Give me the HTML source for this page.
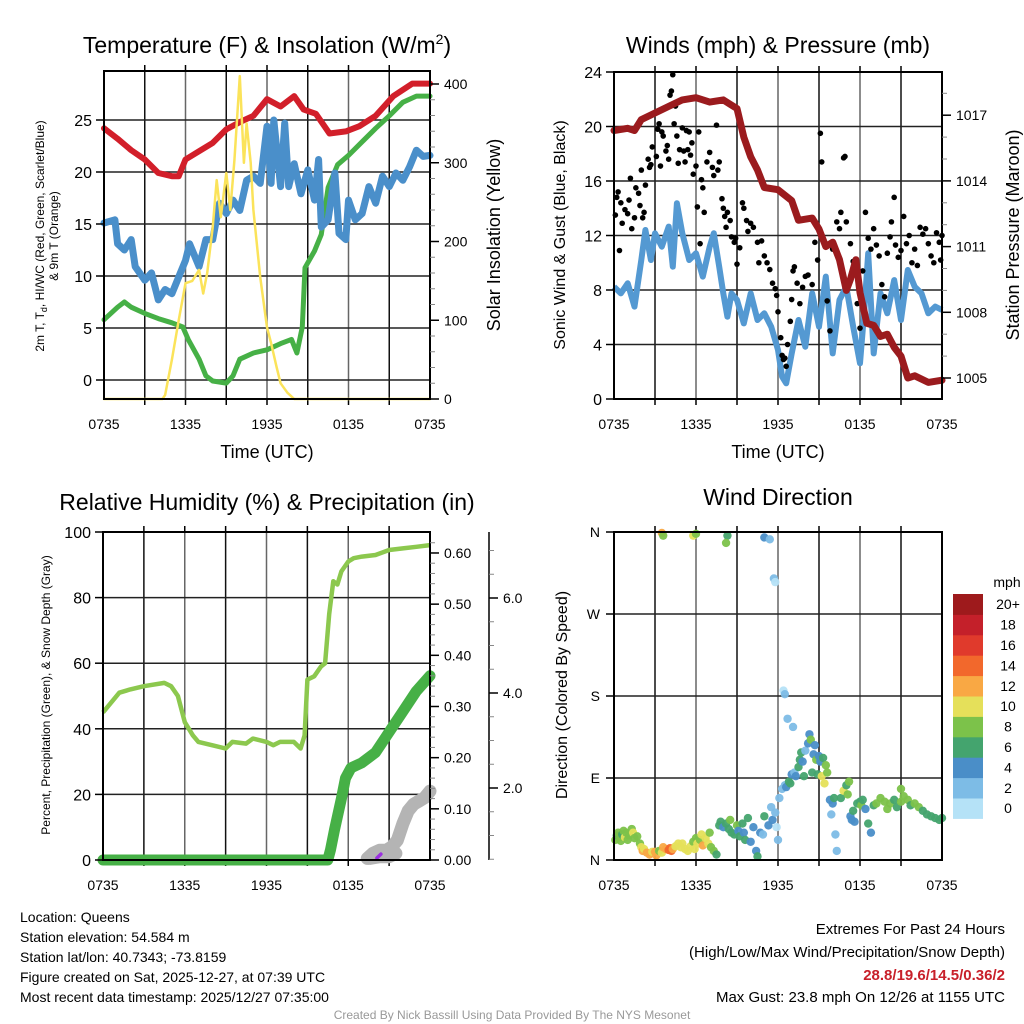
<!DOCTYPE html>
<html><head><meta charset="utf-8">
<style>
html,body{margin:0;padding:0;background:#fff;}
svg{display:block;font-family:"Liberation Sans",sans-serif;}
</style></head>
<body>
<svg id="chart" width="1024" height="1024" viewBox="0 0 1024 1024" xmlns="http://www.w3.org/2000/svg">
<rect width="1024" height="1024" fill="#fff"/>
<text x="267" y="53" font-size="23" text-anchor="middle">Temperature (F) &amp; Insolation (W/m<tspan font-size="14" dy="-9">2</tspan><tspan dy="9">)</tspan></text>
<text x="778" y="53" font-size="23" text-anchor="middle">Winds (mph) &amp; Pressure (mb)</text>
<text x="267" y="510" font-size="23" text-anchor="middle">Relative Humidity (%) &amp; Precipitation (in)</text>
<text x="778" y="505" font-size="23" text-anchor="middle">Wind Direction</text>

<text x="267" y="458" font-size="18" text-anchor="middle">Time (UTC)</text>
<text x="778" y="458" font-size="18" text-anchor="middle">Time (UTC)</text>

<text transform="translate(44,236) rotate(-90)" font-size="12" text-anchor="middle">2m T, T<tspan font-size="9" dy="3">d</tspan><tspan dy="-3">, HI/WC (Red, Green, Scarlet/Blue)</tspan></text>
<text transform="translate(58,236) rotate(-90)" font-size="12" text-anchor="middle">&amp; 9m T (Orange)</text>
<text transform="translate(500,235) rotate(-90)" font-size="18" text-anchor="middle">Solar Insolation (Yellow)</text>
<text transform="translate(565,235) rotate(-90)" font-size="16" text-anchor="middle">Sonic Wind &amp; Gust (Blue, Black)</text>
<text transform="translate(1019,235) rotate(-90)" font-size="18" text-anchor="middle">Station Pressure (Maroon)</text>
<text transform="translate(50,695) rotate(-90)" font-size="12" text-anchor="middle">Percent, Precipitation (Green), &amp; Snow Depth (Gray)</text>
<text transform="translate(567,695) rotate(-90)" font-size="16" text-anchor="middle">Direction (Colored By Speed)</text>

<g font-size="14">
<text x="20" y="922">Location: Queens</text>
<text x="20" y="942">Station elevation: 54.584 m</text>
<text x="20" y="962">Station lat/lon: 40.7343; -73.8159</text>
<text x="20" y="982">Figure created on Sat, 2025-12-27, at 07:39 UTC</text>
<text x="20" y="1002">Most recent data timestamp: 2025/12/27 07:35:00</text>
</g>
<g font-size="15" text-anchor="end">
<text x="1005" y="934">Extremes For Past 24 Hours</text>
<text x="1005" y="957">(High/Low/Max Wind/Precipitation/Snow Depth)</text>
<text x="1005" y="980" fill="#c8202a" font-weight="bold">28.8/19.6/14.5/0.36/2</text>
<text x="1005" y="1002">Max Gust: 23.8 mph On 12/26 at 1155 UTC</text>
</g>
<text x="512" y="1019" font-size="12" fill="#999" text-anchor="middle">Created By Nick Bassill Using Data Provided By The NYS Mesonet</text>
<g id="plots"></g>
</svg>
<script>
// ---------- DATA ----------
const xTickLabels = ["0735","1335","1935","0135","0735"];
const tempTicks = [0,5,10,15,20,25];
const solarTicks = [0,100,200,300,400];
const windTicks = [0,4,8,12,16,20,24];
const presTicks = [1005,1008,1011,1014,1017];
const pctTicks = [0,20,40,60,80,100];
const precipTicks = ["0.00","0.10","0.20","0.30","0.40","0.50","0.60"];
const snowTicks = ["2.0","4.0","6.0"];
const dirLabels = ["N","E","S","W","N"];
const speedLabels = ["0","2","4","6","8","10","12","14","16","18","20+"];
const speedColors = ["#b5e2f7","#7dbce6","#4a8ec8","#44a46e","#7cc24a","#e5e05a","#f9a844","#f2682c","#e03a2c","#c4202a","#9e1a1c"];

const tempRed = [[0,24.2],[1,23.2],[2,22.1],[3,21.2],[4,19.9],[5,19.6],[5.5,19.6],[6,21.2],[7,22],[8,22.8],[9,24.1],[10,24.8],[11,25.4],[12,27],[13,26.3],[14,27.3],[14.7,26],[15.6,25.6],[16.6,23.7],[17.8,23.9],[18.8,24.4],[20,25.4],[21.3,27.3],[22.7,28.5],[24,28.5]];
const tempGreen = [[0,5.8],[1,7],[1.5,7.5],[2,7],[3,6.4],[4,5.9],[5,5.5],[5.8,5.1],[6.2,3.9],[7,2],[7.5,0.4],[8,-0.1],[9,-0.3],[9.5,0.4],[10,2],[11,2.6],[12,2.9],[13,3.5],[13.8,3.9],[14.2,2.6],[14.6,5.1],[14.8,10.8],[15.5,12.4],[16,14],[16.5,18.5],[17.2,20.7],[18,21.6],[19,22.9],[20,24.2],[21,25.4],[22,26.7],[23,27.3],[24,27.3]];
const tempBlue = [[0,15.1],[0.8,15.4],[1,13.1],[1.5,12.5],[2,13.5],[2.3,10.9],[3,9.6],[3.5,10.3],[4,7.7],[4.5,8.7],[5,8.3],[5.5,9.9],[6,11.5],[6.3,13.1],[7,10.9],[7.5,13.5],[8,13.5],[8.5,17],[9,16],[9.5,17.3],[10,16.3],[10.5,19.2],[11,19.6],[11.5,18.9],[12,24.4],[12.3,18.9],[12.5,25],[13,18.6],[13.3,24.7],[13.6,18.6],[14,20.8],[14.5,17.9],[15,20.2],[15.5,17.3],[15.8,21.2],[16,14.7],[16.5,15.4],[17,19.9],[17.3,14.1],[17.8,13.5],[18,17.3],[18.5,15.4],[19,16],[19.5,18.6],[20,17],[20.5,19.6],[21,18.6],[21.5,19.9],[22,19.2],[22.5,20.5],[23,22.1],[23.5,21.5],[24,21.6]];
const solar = [[0,0],[4.3,0],[4.5,5],[5,50],[5.5,100],[6,147],[6.5,150],[7,164],[7.3,134],[7.6,160],[8,218],[8.3,278],[8.6,231],[9,287],[9.3,240],[9.6,303],[10,410],[10.3,300],[10.5,350],[10.8,300],[11,240],[11.5,155],[12,91],[12.3,71],[12.7,41],[13,20],[13.5,8],[14,0],[24,0]];

const windBlue = [[0,8.24],[0.5,7.75],[1,8.49],[1.5,6.78],[2,10.2],[2.3,12.4],[2.7,10.2],[3,12.16],[3.5,11.18],[4,12.65],[4.3,9.71],[4.6,14.36],[5,12.16],[5.5,10.2],[6,10.69],[6.5,8.98],[7,11.18],[7.3,12.16],[7.7,9.71],[8,7.75],[8.3,6.04],[8.6,7.75],[9,7.27],[9.5,5.55],[10,7.75],[10.5,5.8],[11,6.29],[11.5,5.31],[12,3.6],[12.3,1.64],[12.6,1.15],[13,3.35],[13.5,5.8],[14,3.84],[14.5,7.75],[15,5.31],[15.5,8.98],[16,3.35],[16.5,7.27],[17,8.24],[17.5,5.31],[18,2.62],[18.3,6.29],[18.6,10.69],[19,3.35],[19.5,7.75],[20,6.29],[20.5,8.73],[21,5.8],[21.5,9.47],[22,8.24],[22.5,7.75],[23,6.29],[23.5,6.78],[24,6.53]];
const gusts = [[0.1,13.5],[0.2,14.8],[0.3,15.2],[0.4,10.9],[0.5,14.4],[0.6,12.9],[0.8,13.9],[1,13.6],[1.1,14.6],[1.2,16.2],[1.3,12.5],[1.5,13.3],[1.6,15.5],[1.8,15.1],[1.9,14.2],[2,16.8],[2.1,13.3],[2.2,13.7],[2.3,15.7],[2.5,17.6],[2.6,17],[2.7,17.2],[2.8,18.5],[3,21],[3.1,17.8],[3.2,19.8],[3.3,20.2],[3.4,17.1],[3.5,19.6],[3.6,19.3],[3.8,18.2],[3.9,18.6],[4,17.6],[4.1,22.3],[4.2,22.6],[4.3,23.8],[4.4,20.2],[4.5,21.5],[4.6,19.3],[4.7,17.3],[4.8,18.3],[5,19.9],[5.1,18.2],[5.2,17.4],[5.3,19.7],[5.4,18.3],[5.5,19.6],[5.6,17.9],[5.7,18.8],[5.8,16.5],[6,17.1],[6.1,14.1],[6.2,19.6],[6.3,11.4],[6.4,16.1],[6.5,15.5],[6.6,13.7],[6.8,17.4],[7,18.1],[7.2,17],[7.3,16.4],[7.5,20.1],[7.6,16.8],[7.7,17.4],[7.9,14.7],[8,14],[8.1,13.4],[8.2,12.6],[8.3,13.7],[8.5,13.1],[8.6,11.9],[8.8,11.5],[8.9,11.8],[9,9.9],[9.2,11.1],[9.4,14.4],[9.5,14],[9.7,13.1],[9.8,12.3],[10,12.9],[10.2,12.6],[10.5,11.5],[10.6,10],[10.8,11.6],[11,10.5],[11.2,10],[11.4,9.5],[11.6,8.5],[11.8,8.1],[11.9,7.6],[12,6.4],[12.2,4.5],[12.3,3.2],[12.4,2.9],[12.5,3],[12.6,2.4],[12.7,4],[12.9,5.7],[13,7.3],[13.1,9.4],[13.2,9.7],[13.4,8.5],[13.6,7],[13.8,8.2],[14,9],[14.2,9.1],[14.5,8.4],[14.7,11.5],[14.9,10.2],[15.1,19.5],[15.2,17.4],[15.6,7.2],[15.8,5],[16,11],[16.3,13],[16.5,12.5],[16.6,13.7],[16.8,17.7],[16.9,17.8],[17,13],[17.3,11.4],[17.5,10.1],[17.8,7],[18,5.2],[18.2,9.4],[18.4,13.7],[18.6,11.8],[18.8,11],[19,12.5],[19.2,11.3],[19.4,10.5],[19.6,8.4],[19.8,7.5],[20,10.7],[20.2,11.9],[20.3,13],[20.5,14.8],[20.6,11.3],[20.8,10.4],[21,10.9],[21.2,13.4],[21.4,11.4],[21.6,12],[21.8,10],[22,11],[22.2,9.8],[22.4,12.6],[22.6,12.1],[22.8,12.5],[23,11.4],[23.2,10.5],[23.4,10],[23.6,12.2],[23.8,11.5],[23.9,10.2],[24,12]];
const pressure = [[0,1016.3],[1,1016.4],[1.5,1016.3],[2,1016.8],[3,1017.1],[4,1017.4],[5,1017.7],[6,1017.8],[7,1017.6],[8,1017.7],[8.5,1017.5],[9,1017.3],[9.5,1016],[10,1015.1],[10.5,1014.5],[11,1013.7],[12,1013.6],[13,1013.1],[13.5,1012.2],[14.5,1012.3],[15,1011.8],[15.5,1011],[16,1011.2],[16.5,1010.4],[17,1009],[17.3,1009.5],[17.7,1010.4],[18,1008.9],[18.5,1007.5],[19,1007.4],[19.5,1006.9],[20,1007],[20.5,1006.4],[21,1006],[21.5,1005],[22,1005.1],[23,1004.8],[24,1004.9]];

const rh = [[0,45],[1.2,51],[2,52],[3,53],[4.5,54],[5,53],[5.5,50],[6,42],[6.6,38],[7,36],[8,35],[9,34],[9.5,36],[10.5,35.5],[11,37],[12,36],[12.5,35],[13,36],[14,36],[14.5,34],[14.8,38],[15,55],[15.5,56],[16,59],[16.3,60],[16.6,75],[16.9,85],[17.2,84],[17.5,88],[18,91],[18.4,92],[19,92.5],[20,93],[21,94.5],[22,95],[23,95.5],[24,96]];
const precip = [[0,0],[16.5,0],[16.7,0.02],[17,0.06],[17.5,0.12],[17.8,0.16],[18.2,0.18],[19,0.19],[20,0.21],[21,0.25],[22,0.29],[23,0.33],[24,0.36]];
const snow = [[19.4,0.5],[19.8,2],[20.3,3],[20.8,3],[21.2,4],[21.6,6],[22,11],[22.4,15],[22.8,17],[23.2,18],[23.6,19],[24,21]];
const snowLow = [[19.6,0.5],[20.3,1],[21,1],[21.5,2]];
const snowTrace = [[20.1,0.6],[20.4,1.8]];

const windDir = [[0.1,22,8],[0.2,27,6],[0.3,30,8],[0.4,25,9],[0.5,21,8],[0.6,28,6],[0.7,32,8],[0.8,25,10],[0.9,30,8],[1,22,9],[1.1,27,8],[1.3,34,8],[1.4,30,10],[1.5,24,8],[1.7,26,8],[1.9,18,9],[2,14,10],[2.1,10,12],[2.2,12,11],[2.4,8,12],[2.6,6,12],[2.8,9,10],[3,9,12],[3.1,5,12],[3.3,10,8],[3.5,8,10],[3.6,14,13],[3.8,12,12],[4,11,15],[4.1,13,14],[4.2,10,14],[4.3,12,13],[4.5,15,10],[4.7,18,10],[4.9,14,11],[5,18,10],[5.2,12,10],[5.4,10,11],[5.6,15,10],[5.8,20,9],[5.9,12,10],[6,24,8],[6.1,18,10],[6.3,22,9],[6.4,28,11],[6.5,16,12],[6.7,24,10],[6.9,18,10],[7,30,8],[7.1,14,8],[7.3,10,8],[7.5,6,6],[7.7,38,6],[7.8,42,6],[8,36,5],[8.2,40,6],[8.4,34,6],[8.5,44,8],[8.6,30,6],[8.8,28,6],[9,38,8],[9.1,32,4],[9.2,26,6],[9.4,40,6],[9.5,30,4],[9.6,22,6],[9.8,46,6],[10,20,4],[10.2,36,4],[10.4,10,4],[10.5,4,6],[10.7,30,4],[10.9,28,3],[11,48,6],[11.3,38,4],[11.5,58,2],[11.6,44,4],[11.8,52,2],[11.9,36,1],[12,22,2],[12.1,68,2],[12.3,78,2],[12.5,82,2],[12.6,80,4],[12.8,86,6],[12.9,84,6],[13,94,4],[13.2,96,2],[13.3,92,4],[13.5,102,6],[13.6,110,6],[13.7,118,6],[13.8,108,4],[13.9,92,6],[14,120,2],[14.2,128,4],[14.3,138,4],[14.4,132,8],[14.5,96,6],[14.6,116,4],[14.7,126,4],[14.8,110,8],[15,114,4],[15.1,108,4],[15.3,112,6],[15.5,104,8],[14.9,94,6],[15.2,92,10],[15.4,84,10],[15.6,96,8],[15.8,66,4],[16,62,4],[15.9,50,2],[16.1,68,6],[16.2,28,2],[16.3,10,2],[16.6,68,6],[16.8,76,10],[17,82,6],[17.1,72,8],[17.2,86,8],[17.3,48,4],[17.4,44,4],[17.5,54,6],[17.6,42,4],[17.8,62,6],[18,64,6],[18.1,60,8],[18.2,66,6],[18.4,56,4],[18.6,40,6],[18.8,30,4],[19,60,6],[19.2,62,8],[19.5,68,8],[19.8,64,8],[20,56,8],[20.2,62,8],[20.5,66,6],[20.7,58,6],[21,64,8],[21.2,70,8],[21.5,66,8],[21.7,60,6],[22,62,8],[22.3,58,8],[22.6,54,6],[22.9,50,6],[23.2,48,6],[23.5,46,6],[23.8,44,6],[24,46,6],[21,78,8],[3.5,359,12],[3.6,356,8],[5.8,356,10],[6,358,8],[8.3,356,6],[8.2,348,8],[11,354,4],[11.4,352,2],[11.7,309,2],[11.8,305,1],[12.4,186,1],[12.5,182,2],[12.7,155,2],[13.1,146,2]];

// ---------- DRAWING ----------
const NS = "http://www.w3.org/2000/svg";
const root = document.getElementById("plots");
function mk(tag, attrs, parent) {
  const e = document.createElementNS(NS, tag);
  for (const k in attrs) e.setAttribute(k, attrs[k]);
  (parent || root).appendChild(e);
  return e;
}
function txt(x, y, s, size, anchor, parent) {
  const t = mk("text", {x: x, y: y, "font-size": size, "text-anchor": anchor || "middle"}, parent);
  t.textContent = s;
  return t;
}
function pathOf(data, fx, fy) {
  return data.map((d, i) => (i ? "L" : "M") + fx(d[0]).toFixed(1) + "," + fy(d[1]).toFixed(1)).join("");
}
function frame(L, R, T, B, hLines, name) {
  const g = mk("g", {});
  
  
  for (let i = 1; i < 8; i++) {
    const x = L + (R - L) * i / 8;
    const l = mk("line", {x1: x, x2: x, y1: T, y2: B, stroke: i % 2 ? "#111" : "#666", "stroke-width": 1.5}, g);
    
    
    mk("line", {x1: x, x2: x, y1: B, y2: B + 6, stroke: "#000", "stroke-width": 1.5}, g);
    mk("line", {x1: x, x2: x, y1: T, y2: T - 6, stroke: "#000", "stroke-width": 1.5}, g);
  }
  hLines.forEach(y => {
    const l = mk("line", {x1: L, x2: R, y1: y, y2: y, stroke: "#222", "stroke-width": 1.5}, g);
    
    
  });
  xTickLabels.forEach((s, i) => {
    const t = txt(L + (R - L) * i / 4, B + 30, s, 14, "middle", g);
    
    
  });
  return g;
}
function border(L, R, T, B) {
  const r = mk("rect", {x: L, y: T, width: R - L, height: B - T, fill: "none", stroke: "#000", "stroke-width": 2});
  
  
}
function leftTicks(vals, fy, L, labelFn) {
  vals.forEach(v => {
    const y = fy(v);
    mk("line", {x1: L - 8, x2: L, y1: y, y2: y, stroke: "#000", "stroke-width": 1.5});
    const t = txt(L - 12, y + 6, labelFn ? labelFn(v) : String(v), 16, "end");
    
    
  });
}
function rightTicks(vals, fy, R, labels, size, minorStep, lo, hi) {
  if (minorStep) for (let v = lo; v <= hi + 1e-9; v += minorStep) {
    const y = fy(v);
    mk("line", {x1: R, x2: R + 5, y1: y, y2: y, stroke: "#888", "stroke-width": 1});
  }
  vals.forEach((v, i) => {
    const y = fy(v);
    mk("line", {x1: R, x2: R + 9, y1: y, y2: y, stroke: "#000", "stroke-width": 1.5});
    const t = txt(R + 14, y + 5, labels ? labels[i] : String(v), size || 14, "start");
    
    
  });
}

// Panel 1: Temperature
(function () {
  const L = 104, R = 430, T = 71, B = 399;
  const sx = h => L + h / 24 * (R - L);
  const sy = v => 380 - v * 10.4;
  const ss = v => B - v * 0.7875;
  frame(L, R, T, B, tempTicks.map(sy), "temp-grid");
  const mkLine = (d, fy, col, w, name) => {
    const p = mk("path", {d: pathOf(d, sx, fy), fill: "none", stroke: col, "stroke-width": w, "stroke-linejoin": "round", "stroke-linecap": "round"});
    
    
  };
  mkLine(tempGreen, sy, "#46b046", 5, "dewpoint-line");
  mkLine(tempRed, sy, "#d21f2a", 6, "temperature-line");
  mkLine(tempBlue, sy, "#4a8fca", 7, "windchill-line");
  mkLine(solar, ss, "#fbe35a", 2.5, "solar-line");
  border(L, R, T, B);
  leftTicks(tempTicks, sy, L);
  rightTicks(solarTicks, ss, R, null, 14, 20, 0, 400);
})();

// Panel 2: Winds
(function () {
  const L = 614, R = 942, T = 72, B = 399;
  const sx = h => L + h / 24 * (R - L);
  const sy = v => B - v * 13.625;
  const sp = p => 378 - (p - 1005) * 21.9;
  frame(L, R, T, B, windTicks.slice(1, -1).map(sy), "wind-grid");
  const wl = mk("path", {d: pathOf(windBlue, sx, sy), fill: "none", stroke: "#5499d2", "stroke-width": 6, "stroke-linejoin": "round"});
  
  
  gusts.forEach(g => {
    const c = mk("circle", {cx: sx(g[0]), cy: sy(g[1]), r: 2.8, fill: "#000"});
    
    
  });
  const pl = mk("path", {d: pathOf(pressure, sx, sp), fill: "none", stroke: "#9b1b1e", "stroke-width": 7, "stroke-linejoin": "round", "stroke-linecap": "round"});
  
  
  border(L, R, T, B);
  leftTicks(windTicks, sy, L);
  rightTicks(presTicks, sp, R, null, 14, 1, 1005, 1018);
})();

// Panel 3: RH & Precip
(function () {
  const L = 103, R = 430, T = 532, B = 860;
  const sx = h => L + h / 24 * (R - L);
  const sy = v => B - v * 3.28;
  const spr = p => B - p * 511.7;
  const ssn = v => 883 - v * 47.5;
  frame(L, R, T, B, pctTicks.slice(1, -1).map(sy), "rh-grid");
  const rl = mk("path", {d: pathOf(rh, sx, sy), fill: "none", stroke: "#8cc84e", "stroke-width": 4.5, "stroke-linejoin": "round"});
  
  
  const sn = mk("path", {d: pathOf(snow, sx, sy), fill: "none", stroke: "#b4b4b4", "stroke-width": 13, "stroke-linejoin": "round", "stroke-linecap": "round"});
  
  
  const sn2 = mk("path", {d: pathOf(snowLow, sx, sy), fill: "none", stroke: "#b4b4b4", "stroke-width": 13, "stroke-linejoin": "round", "stroke-linecap": "round"});
  
  
  const st = mk("path", {d: pathOf(snowTrace, sx, sy), fill: "none", stroke: "#9b30e0", "stroke-width": 3.5, "stroke-linecap": "round"});
  
  
  const pr = mk("path", {d: pathOf(precip, sx, spr), fill: "none", stroke: "#46b046", "stroke-width": 11, "stroke-linejoin": "round", "stroke-linecap": "round"});
  
  
  border(L, R, T, B);
  leftTicks(pctTicks, sy, L);
  rightTicks(precipTicks.map(Number), spr, R, precipTicks, 14, 0.02, 0, 0.62);
  const ax = 489;
  mk("line", {x1: ax, x2: ax, y1: T, y2: B, stroke: "#000", "stroke-width": 1.5});
  for (let v = 0.5; v <= 7.5; v += 0.5) {
    const y = ssn(v);
    if (y >= T && y <= B) mk("line", {x1: ax, x2: ax + 5, y1: y, y2: y, stroke: "#888", "stroke-width": 1});
  }
  snowTicks.forEach(s => {
    const y = ssn(Number(s));
    mk("line", {x1: ax, x2: ax + 9, y1: y, y2: y, stroke: "#000", "stroke-width": 1.5});
    const t = txt(ax + 14, y + 5, s, 14, "start");
    
    
  });
})();

// Panel 4: Wind direction
(function () {
  const L = 614, R = 942, T = 532, B = 860;
  const sx = h => L + h / 24 * (R - L);
  const sy = d => B - d / 360 * (B - T);
  frame(L, R, T, B, [90, 180, 270].map(sy), "dir-grid");
  windDir.forEach(p => {
    const idx = Math.min(10, Math.max(0, Math.floor(p[2] / 2)));
    const c = mk("circle", {cx: sx(p[0]), cy: sy(p[1]), r: 4.2, fill: speedColors[idx], opacity: 0.95});
    
    
  });
  border(L, R, T, B);
  dirLabels.forEach((s, i) => {
    const y = sy(i * 90);
    mk("line", {x1: L - 8, x2: L, y1: y, y2: y, stroke: "#000", "stroke-width": 1.5});
    const t = txt(L - 14, y + 5, s, 14, "end");
    
    
  });
  const cb = mk("g", {});
  
  
  const cx = 953, cw = 30, top = 594, bh = 20.4;
  const u = txt(1007, 587, "mph", 14, "middle", cb);
  
  
  speedColors.forEach((col, i) => {
    const y = top + (10 - i) * bh;
    mk("rect", {x: cx, y: y, width: cw, height: bh + 0.5, fill: col}, cb);
    const t = txt(1008, y + bh / 2 + 5, speedLabels[i], 14, "middle", cb);
    
    
  });
})();
</script>
</body></html>
